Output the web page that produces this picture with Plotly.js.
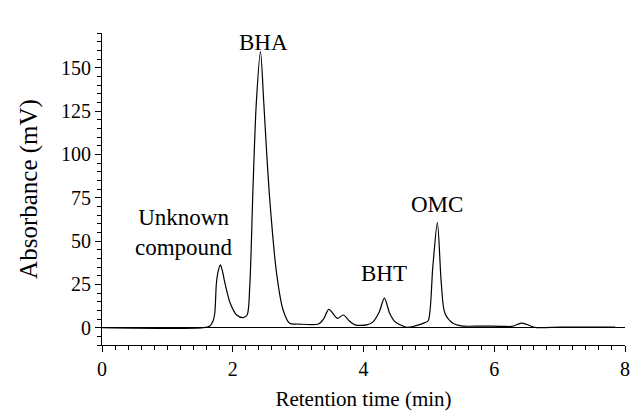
<!DOCTYPE html>
<html>
<head>
<meta charset="utf-8">
<script src="https://cdn.plot.ly/plotly-3.0.1.min.js"></script>
<style>html,body{margin:0;padding:0;background:#fff;}#chart{width:632px;height:411px;}</style>
</head>
<body>
<div id="chart"></div>
<script>
// Retention time (min)
const time = [0, 1.55, 1.65, 1.7, 1.725, 1.75, 1.78, 1.81, 1.84, 1.88, 1.96, 2.06, 2.16, 2.22, 2.26, 2.31, 2.36, 2.424, 2.475, 2.52, 2.57, 2.67, 2.77, 2.87, 3.0, 3.31, 3.39, 3.47, 3.6, 3.69, 3.78, 3.87, 4.05, 4.15, 4.24, 4.32, 4.4, 4.48, 4.66, 4.79, 4.94, 4.99, 5.06, 5.13, 5.19, 5.245, 5.37, 5.5, 5.8, 6.1, 6.27, 6.35, 6.42, 6.5, 6.62, 7.0, 7.5, 7.85];
// Absorbance (mV)
const absorbance = [0, 0, 1, 4, 8.3, 25.6, 33, 36.2, 33, 25.8, 14.2, 7.3, 5.8, 7.3, 23.7, 81, 129.5, 159.3, 129.6, 100, 72, 31.5, 10.2, 2.5, 2.1, 2.1, 5, 10.6, 5.4, 7.3, 4, 1.6, 1.6, 3.5, 9, 17, 8.3, 3.5, 0.2, 1, 2.9, 4, 35, 60.6, 25.6, 8.3, 2.5, 1, 0.9, 0.8, 0.7, 1.8, 2.6, 1.8, 0.2, 0.3, 0.3, 0.3];

const peakLabels = ["Unknown<br>compound", "BHA", "BHT", "OMC"];
const peakLabelX = [1.25, 2.47, 4.32, 5.13];
const peakLabelY = [55, 173, 31, 71];

const xTickVals = [0, 2, 4, 6, 8];
const yTickVals = [0, 25, 50, 75, 100, 125, 150];

const serif = "Liberation Serif";
const yRange = [-10, 170];

const trace = {
  x: time, y: absorbance, type: "scatter", mode: "lines",
  line: {color: "#000", width: 1.2, shape: "spline", smoothing: 0.8},
  hoverinfo: "skip"
};

// labels above the axis range are placed in paper units so they are not hidden
const annotations = peakLabels.map((t, i) => {
  const inside = peakLabelY[i] <= yRange[1];
  return {
    x: peakLabelX[i], xref: "x",
    y: inside ? peakLabelY[i] : (peakLabelY[i] - yRange[0]) / (yRange[1] - yRange[0]),
    yref: inside ? "y" : "paper",
    text: t, showarrow: false, font: {family: serif, size: 23, color: "#000"}
  };
});

const layout = {
  width: 632, height: 411,
  margin: {l: 102, r: 7, t: 33, b: 66, pad: 0},
  paper_bgcolor: "#fff", plot_bgcolor: "#fff",
  showlegend: false,
  font: {family: serif, color: "#000"},
  xaxis: {
    range: [0, 8], showgrid: false, zeroline: false,
    showline: true, linecolor: "#000", linewidth: 1,
    tickmode: "array", tickvals: xTickVals, ticktext: xTickVals.map(String),
    ticks: "outside", ticklen: 6, tickwidth: 1, tickcolor: "#000",
    minor: {dtick: 0.2, tick0: 0, ticks: "outside", ticklen: 4, tickwidth: 1, tickcolor: "#000", showgrid: false},
    tickfont: {family: serif, size: 20, color: "#000"},
    title: {text: "Retention time (min)", font: {family: serif, size: 21, color: "#000"}, standoff: 12},
    automargin: false
  },
  yaxis: {
    range: yRange, showgrid: false,
    zeroline: true, zerolinecolor: "#000", zerolinewidth: 1,
    showline: true, linecolor: "#000", linewidth: 1,
    tickmode: "array", tickvals: yTickVals, ticktext: yTickVals.map(String),
    ticks: "outside", ticklen: 6, tickwidth: 1, tickcolor: "#000",
    minor: {dtick: 5, tick0: 0, ticks: "outside", ticklen: 4, tickwidth: 1, tickcolor: "#000", showgrid: false},
    tickfont: {family: serif, size: 20, color: "#000"},
    title: {text: "Absorbance (mV)", font: {family: serif, size: 25, color: "#000"}, standoff: 16},
    automargin: false
  },
  annotations: annotations
};

Plotly.newPlot("chart", [trace], layout, {displayModeBar: false, staticPlot: true});
</script>
</body>
</html>
